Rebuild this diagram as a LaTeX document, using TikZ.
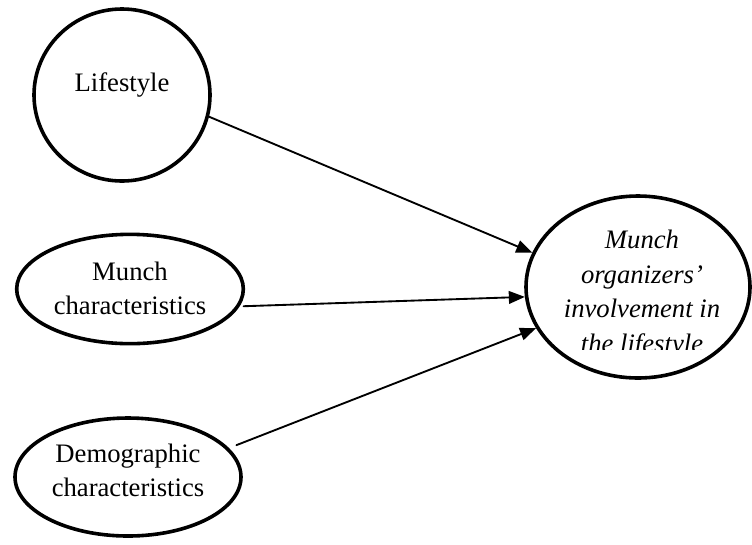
\documentclass[tikz,border=0pt]{standalone}
\usepackage{fontspec}
\setmainfont{Liberation Serif}
\usepackage{xcolor}
\usetikzlibrary{arrows.meta, shapes.geometric}
\definecolor{inkC}{HTML}{000000}
\definecolor{paperC}{HTML}{FFFFFF}

\begin{document}
\begin{tikzpicture}[
  x=0.75pt,
  y=-0.75pt,
  line cap=round,
  line join=round,
  blob/.style={ellipse, draw=inkC, line width=2.7pt, inner sep=0pt},
  lbl/.style={inner sep=0pt, align=center, font=\fontsize{20}{26}\selectfont},
  link/.style={inkC, line width=1.4pt, -{Triangle[length=12pt, width=9.5pt]}}
]

\useasboundingbox[fill=paperC] (0,0) rectangle (752,544);

% Factors
\node[blob, minimum width=132pt, minimum height=129pt] (life) at (122,95) {};
\node[blob, minimum width=170pt, minimum height=82pt] (munch) at (130,289) {};
\node[blob, minimum width=169.5pt, minimum height=88.5pt] (demo) at (128,477) {};
\node[lbl] (lifeT) at (122,85) {Lifestyle};
\node[lbl] (munchT) at (130,288.5) {Munch\\characteristics};
\node[lbl] (demoT) at (128,470.5) {Demographic\\characteristics};

% Outcome (text box cut off at the bottom)
\node[blob, minimum width=168pt, minimum height=136.5pt] (goal) at (638,287) {};
\begin{scope}
  \clip (520,195) rectangle (752,349);
  \node[lbl, font=\fontsize{20}{26}\selectfont\itshape] (goalT) at (642,294)
    {Munch\\organizers'\\involvement in\\the lifestyle};
\end{scope}

% Effects
\draw[link] (life.-14) -- (goal.162);
\draw[link, shorten <=3pt] (munch.-9) -- (goal.185);
\draw[link, shorten <=6pt] (demo.16) -- (goal.202);

\end{tikzpicture}
\end{document}
